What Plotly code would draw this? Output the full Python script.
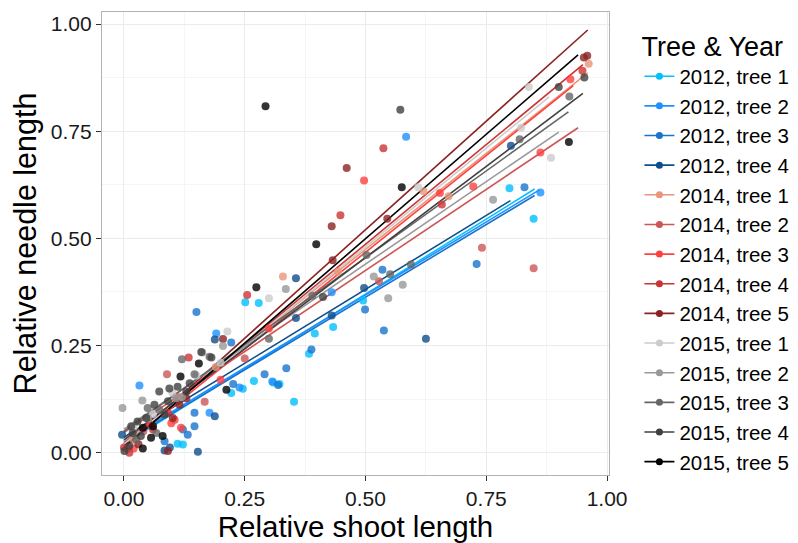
import plotly.graph_objects as go

# groups (legend order) and colours
groups = ['2012, tree 1', '2012, tree 2', '2012, tree 3', '2012, tree 4',
          '2014, tree 1', '2014, tree 2', '2014, tree 3', '2014, tree 4', '2014, tree 5',
          '2015, tree 1', '2015, tree 2', '2015, tree 3', '2015, tree 4', '2015, tree 5']
colours = ['#00BFFF', '#1E90FF', '#1874CD', '#104E8B',
           '#E9967A', '#CD5555', '#FF4040', '#CD3333', '#8B2323',
           '#CCCCCC', '#999999', '#666666', '#404040', '#000000']

# relative shoot length (x) / relative needle length (y)
x_2012_1 = [0.111, 0.122, 0.222, 0.246, 0.251, 0.269, 0.279, 0.309, 0.322, 0.352, 0.383, 0.395, 0.433, 0.495, 0.798, 0.848]
y_2012_1 = [0.021, 0.019, 0.139, 0.149, 0.351, 0.167, 0.349, 0.164, 0.160, 0.119, 0.231, 0.278, 0.293, 0.355, 0.617, 0.546]
x_2012_2 = [0.032, 0.177, 0.191, 0.239, 0.307, 0.430, 0.584, 0.862]
y_2012_2 = [0.157, 0.093, 0.278, 0.152, 0.166, 0.374, 0.737, 0.607]
x_2012_3 = [0.084, 0.122, 0.132, 0.146, 0.146, 0.150, 0.222, 0.226, 0.291, 0.319, 0.336, 0.388, 0.499, 0.535, 0.538, 0.730, 0.829]
y_2012_3 = [0.027, 0.054, 0.042, 0.062, 0.093, 0.328, 0.257, 0.160, 0.183, 0.158, 0.197, 0.241, 0.334, 0.427, 0.285, 0.440, 0.619]
x_2012_4 = [-0.004, 0.084, 0.095, 0.153, 0.188, 0.188, 0.356, 0.356, 0.430, 0.497, 0.625, 0.801]
y_2012_4 = [0.042, 0.005, 0.012, 0.002, 0.264, 0.085, 0.407, 0.314, 0.320, 0.384, 0.266, 0.716]
x_2014_1 = [0.020, 0.060, 0.120, 0.190, 0.329, 0.443, 0.620, 0.672, 0.962]
y_2014_1 = [0.030, 0.060, 0.130, 0.200, 0.411, 0.422, 0.610, 0.598, 0.907]
x_2014_2 = [0.010, 0.040, 0.089, 0.108, 0.167, 0.250, 0.528, 0.741, 0.848]
y_2014_2 = [0.010, 0.050, 0.183, 0.131, 0.119, 0.220, 0.400, 0.478, 0.430]
x_2014_3 = [0.020, 0.098, 0.105, 0.118, 0.200, 0.300, 0.497, 0.654, 0.723, 0.862, 0.924]
y_2014_3 = [0.010, 0.069, 0.077, 0.058, 0.170, 0.290, 0.635, 0.606, 0.621, 0.700, 0.871]
x_2014_4 = [0.000, 0.011, 0.053, 0.060, 0.091, 0.134, 0.255, 0.448, 0.537, 0.658, 0.949]
y_2014_4 = [0.012, 0.000, 0.066, 0.054, 0.093, 0.222, 0.368, 0.554, 0.710, 0.579, 0.891]
x_2014_5 = [0.030, 0.091, 0.101, 0.115, 0.129, 0.205, 0.430, 0.432, 0.461, 0.545, 0.952, 0.959]
y_2014_5 = [0.020, 0.004, 0.081, 0.112, 0.127, 0.265, 0.528, 0.449, 0.664, 0.546, 0.922, 0.926]
x_2015_1 = [0.020, 0.060, 0.100, 0.150, 0.200, 0.214, 0.300, 0.609, 0.822, 0.838, 0.884]
y_2015_1 = [0.060, 0.090, 0.140, 0.180, 0.210, 0.283, 0.360, 0.619, 0.758, 0.853, 0.688]
x_2015_2 = [-0.003, 0.038, 0.050, 0.108, 0.120, 0.162, 0.205, 0.335, 0.517, 0.547, 0.577, 0.764]
y_2015_2 = [0.104, 0.122, 0.080, 0.127, 0.130, 0.234, 0.249, 0.382, 0.411, 0.360, 0.392, 0.590]
x_2015_3 = [0.025, 0.049, 0.067, 0.073, 0.120, 0.146, 0.177, 0.300, 0.390, 0.502, 0.551, 0.594, 0.819, 0.922]
y_2015_3 = [0.031, 0.104, 0.046, 0.100, 0.218, 0.183, 0.224, 0.266, 0.366, 0.461, 0.416, 0.439, 0.731, 0.831]
x_2015_4 = [0.001, 0.011, 0.015, 0.018, 0.028, 0.035, 0.046, 0.063, 0.073, 0.084, 0.091, 0.094, 0.111, 0.129, 0.136, 0.160, 0.181, 0.412, 0.572, 0.900, 0.953]
y_2015_4 = [0.004, 0.016, 0.062, 0.046, 0.073, 0.039, 0.081, 0.112, 0.143, 0.089, 0.120, 0.150, 0.154, 0.143, 0.162, 0.235, 0.222, 0.363, 0.800, 0.853, 0.875]
x_2015_5 = [0.039, 0.039, 0.056, 0.060, 0.080, 0.117, 0.155, 0.212, 0.274, 0.293, 0.398, 0.575, 0.921]
y_2015_5 = [0.010, 0.058, 0.035, 0.062, 0.039, 0.178, 0.208, 0.147, 0.386, 0.808, 0.486, 0.619, 0.725]

xs = [x_2012_1, x_2012_2, x_2012_3, x_2012_4, x_2014_1, x_2014_2, x_2014_3, x_2014_4, x_2014_5,
      x_2015_1, x_2015_2, x_2015_3, x_2015_4, x_2015_5]
ys = [y_2012_1, y_2012_2, y_2012_3, y_2012_4, y_2014_1, y_2014_2, y_2014_3, y_2014_4, y_2014_5,
      y_2015_1, y_2015_2, y_2015_3, y_2015_4, y_2015_5]

# fitted lines per group (start / end)
fit_x0 = [0.00, 0.00, 0.00, 0.00, 0.00, 0.00, 0.00, 0.00, 0.00, 0.00, 0.00, 0.00, 0.00, 0.00]
fit_y0 = [0.020, 0.028, 0.024, 0.036, 0.027, 0.047, 0.016, 0.021, 0.014, 0.020, 0.055, 0.050, 0.030, 0.012]
fit_x1 = [0.85, 0.86, 0.85, 0.80, 0.96, 0.94, 0.93, 0.95, 0.96, 0.88, 0.90, 0.92, 0.95, 0.94]
fit_y1 = [0.615, 0.613, 0.600, 0.588, 0.886, 0.758, 0.856, 0.905, 0.986, 0.830, 0.748, 0.795, 0.838, 0.928]

FONT = 'Liberation Sans, Arial'

fig = go.Figure()

# regression lines first, points on top
for i, g in enumerate(groups):
    fig.add_trace(go.Scatter(x=[fit_x0[i], fit_x1[i]], y=[fit_y0[i], fit_y1[i]], mode='lines',
                             line=dict(color=colours[i], width=1.6), showlegend=False,
                             legendgroup=g, hoverinfo='skip'))

for i, g in enumerate(groups):
    fig.add_trace(go.Scatter(x=xs[i], y=ys[i], mode='markers', name=g, legendgroup=g,
                             marker=dict(color=colours[i], size=8, opacity=0.8),
                             showlegend=False))
    # legend key: point + line
    fig.add_trace(go.Scatter(x=[None], y=[None], mode='lines+markers', name=g, legendgroup=g,
                             marker=dict(color=colours[i], size=7),
                             line=dict(color=colours[i], width=1.6)))

axis_common = dict(
    showgrid=True, gridcolor='#ebebeb', gridwidth=1, automargin=False,
    zeroline=False, showline=True, mirror=True, linecolor='#b3b3b3', linewidth=1.2,
    ticks='outside', ticklen=5, tickcolor='#333333', tickwidth=1,
    tickvals=[0, 0.25, 0.5, 0.75, 1.0], tickformat='.2f',
    tickfont=dict(family=FONT, size=21, color='#1a1a1a'),
    minor=dict(tick0=0.125, dtick=0.25, showgrid=True, gridcolor='#f5f5f5', ticks=''),
)

fig.update_xaxes(axis_common, range=[-0.0455, 1.004],
                 title=dict(text='Relative shoot length', standoff=0,
                            font=dict(family=FONT, size=29.5, color='#000000')))
fig.update_yaxes(axis_common, range=[-0.052, 1.028],
                 title=dict(text='Relative needle length', standoff=8,
                            font=dict(family=FONT, size=30.5, color='#000000')))

# the page adds an 8px body margin, so the figure is drawn 8px in from the corner
fig.update_layout(
    width=790, height=535,
    margin=dict(l=94, r=189, t=4, b=68, autoexpand=False),
    plot_bgcolor='white', paper_bgcolor='white',
    legend=dict(title=dict(text='Tree & Year', font=dict(family=FONT, size=27)),
                font=dict(family=FONT, size=20.5, color='#000000'),
                x=1.06, xanchor='left', y=0.98, yanchor='top',
                tracegroupgap=0, itemwidth=30, borderwidth=0),
    font=dict(family=FONT),
)

fig.write_html("out.html")
